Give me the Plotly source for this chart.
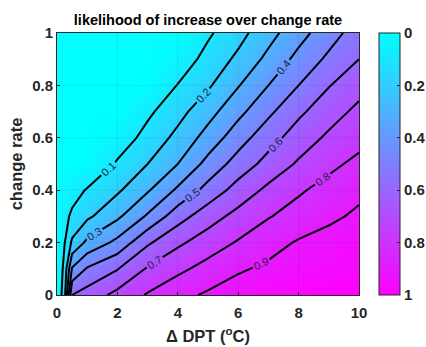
import plotly.graph_objects as go

# ---- data ----
x_dpt = [0, 0.25, 0.5, 1, 2, 3, 4, 5, 6, 7, 8, 9, 10]
y_rate = [0, 0.1, 0.2, 0.3, 0.4, 0.5, 0.6, 0.7, 0.8, 0.9, 1.0]
z_y00 = [0, 0.167, 0.60, 0.643, 0.729, 0.809, 0.870, 0.914, 0.943, 0.970, 0.990, 1.000, 1.000]
z_y01 = [0, 0.133, 0.41, 0.510, 0.595, 0.710, 0.777, 0.835, 0.889, 0.917, 0.937, 0.958, 0.980]
z_y02 = [0, 0.096, 0.217, 0.323, 0.427, 0.585, 0.682, 0.748, 0.809, 0.866, 0.909, 0.930, 0.953]
z_y03 = [0, 0.071, 0.119, 0.181, 0.281, 0.414, 0.557, 0.658, 0.731, 0.794, 0.840, 0.884, 0.914]
z_y04 = [0, 0.030, 0.060, 0.108, 0.185, 0.289, 0.418, 0.535, 0.641, 0.723, 0.787, 0.836, 0.882]
z_y05 = [0, 0, 0, 0.010, 0.113, 0.200, 0.300, 0.433, 0.542, 0.635, 0.713, 0.775, 0.826]
z_y06 = [0, 0, 0, 0, 0.040, 0.135, 0.227, 0.339, 0.457, 0.560, 0.648, 0.717, 0.766]
z_y07 = [0, 0, 0, 0, 0, 0.080, 0.167, 0.263, 0.372, 0.479, 0.580, 0.659, 0.723]
z_y08 = [0, 0, 0, 0, 0, 0.005, 0.104, 0.186, 0.294, 0.400, 0.500, 0.595, 0.666]
z_y09 = [0, 0, 0, 0, 0, 0, 0.040, 0.133, 0.221, 0.326, 0.429, 0.520, 0.600]
z_y10 = [0, 0, 0, 0, 0, 0, 0, 0.085, 0.166, 0.264, 0.364, 0.457, 0.548]
z_like = [z_y00, z_y01, z_y02, z_y03, z_y04, z_y05, z_y06, z_y07, z_y08, z_y09, z_y10]

x_ticks = [0, 2, 4, 6, 8, 10]
y_ticks = [0, 0.2, 0.4, 0.6, 0.8, 1]
cbar_ticks = [0, 0.2, 0.4, 0.6, 0.8, 1]

FONT = "Liberation Sans"
TXT = "#262626"
cool_rev = [[0, "#00FFFF"], [1, "#FF00FF"]]

fig = go.Figure()
fig.add_trace(go.Contour(
    x=x_dpt, y=y_rate, z=z_like,
    zmin=0, zmax=1, colorscale=cool_rev, showscale=False,
    contours=dict(start=0.1, end=0.9, size=0.1, coloring="heatmap",
                  showlabels=True,
                  labelfont=dict(family=FONT, size=11, color="#1c2340")),
    line=dict(color="black", width=2, smoothing=0),
    hoverinfo="skip",
))

# colorbar with 0 at the top (as in the reference)
fig.add_trace(go.Scatter(
    x=[None], y=[None], mode="markers", showlegend=False, hoverinfo="skip",
    marker=dict(color=[0], cmin=-1, cmax=0,
                colorscale=[[0, "#FF00FF"], [1, "#00FFFF"]],
                showscale=True,
                colorbar=dict(
                    x=(379 - 57) / 302, xanchor="left", xref="paper",
                    y=0.5, yanchor="middle", len=1, lenmode="fraction",
                    thickness=21, thicknessmode="pixels",
                    outlinewidth=1, outlinecolor=TXT,
                    tickvals=[-v for v in cbar_ticks],
                    ticktext=[f"<b>{v:g}</b>" for v in cbar_ticks],
                    ticks="inside", ticklen=3, tickcolor=TXT,
                    tickfont=dict(family=FONT, size=15, color=TXT),
                    ypad=0, xpad=0,
                ))))

grid_shapes = []
for gx in x_ticks[1:-1]:
    grid_shapes.append(dict(type="line", xref="x", yref="y", x0=gx, x1=gx, y0=0, y1=1,
                            line=dict(color="rgba(0,0,0,0.13)", width=0.6), layer="above"))
for gy in y_ticks[1:-1]:
    grid_shapes.append(dict(type="line", xref="x", yref="y", x0=0, x1=10, y0=gy, y1=gy,
                            line=dict(color="rgba(0,0,0,0.13)", width=0.6), layer="above"))

fig.update_layout(
    width=426, height=347,
    margin=dict(l=57, r=67, t=33, b=52, autoexpand=False),
    paper_bgcolor="white", plot_bgcolor="white",
    font=dict(family=FONT, color=TXT),
    title=dict(text="<b>likelihood of increase over change rate</b>",
               x=0.5, xref="paper", xanchor="center",
               y=1 - 20 / 347, yref="container", yanchor="middle",
               font=dict(family=FONT, size=14.5, color="black")),
    shapes=grid_shapes,
    showlegend=False,
)
fig.update_xaxes(range=[0, 10], tickvals=x_ticks,
                 ticktext=[f"<b>{v:g}</b>" for v in x_ticks],
                 ticks="inside", ticklen=3, ticklabelstandoff=4,
                 tickcolor=TXT, showline=True, linecolor=TXT, linewidth=1, mirror=True,
                 showgrid=False, zeroline=False,
                 tickfont=dict(family=FONT, size=15, color=TXT),
                 title=dict(text="<b>Δ DPT (<sup>o</sup>C)</b>", standoff=10,
                            font=dict(family=FONT, size=16.5, color=TXT)))
fig.update_yaxes(range=[0, 1], tickvals=y_ticks,
                 ticktext=[f"<b>{v:g}</b>" for v in y_ticks],
                 ticks="inside", ticklen=3,
                 tickcolor=TXT, showline=True, linecolor=TXT, linewidth=1, mirror=True,
                 showgrid=False, zeroline=False,
                 tickfont=dict(family=FONT, size=15, color=TXT),
                 title=dict(text="<b>change rate</b>", standoff=5,
                            font=dict(family=FONT, size=16.5, color=TXT)))

fig.write_html("out.html")
